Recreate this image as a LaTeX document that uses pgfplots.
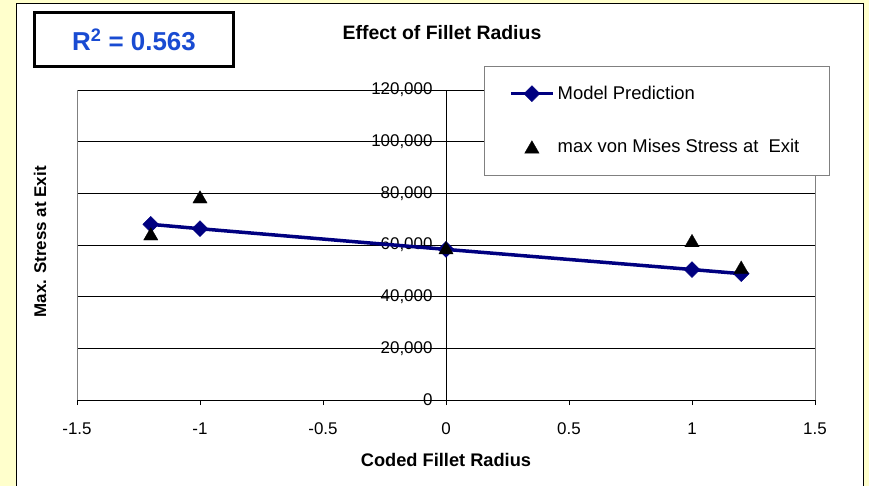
\documentclass[border=0pt]{standalone}
\usepackage{fontspec}
\setmainfont{Liberation Sans}
\usepackage{pgfplots}
\pgfplotsset{compat=1.18}
\definecolor{bgyellow}{RGB}{255,255,204}
\definecolor{navyline}{RGB}{0,0,128}
\definecolor{rblue}{RGB}{25,75,210}
\begin{document}
\begin{tikzpicture}
\useasboundingbox (0,0) rectangle (869bp,486bp);
\fill[bgyellow] (0,0) rectangle (869bp,486bp);
\fill[white] (16bp,0) rectangle (863bp,482bp);
\draw[black, line width=1bp] (16bp,-2bp) -- (16bp,482bp) -- (863bp,482bp) -- (863bp,-2bp);
\node[draw, line width=3bp, minimum width=199bp, minimum height=54bp, inner sep=0pt, text=rblue, font=\bfseries\fontsize{26}{28}\selectfont] at (134bp,446.5bp) {R\textsuperscript{2} = 0.563};
\begin{axis}[
 at={(77bp,86bp)}, anchor=south west, scale only axis, width=738bp, height=310bp,
 xmin=-1.5, xmax=1.5, ymin=0, ymax=120000,
 clip=false,
 axis x line=bottom, axis y line=center, axis line style={-, black, line width=0.8bp},
 xtick={-1.5,-1,-0.5,0,0.5,1,1.5}, ytick={0,20000,40000,60000,80000,100000,120000},
 xticklabels={-1.5,-1,-0.5,0,0.5,1,1.5},
 yticklabels={0,{20,000},{40,000},{60,000},{80,000},{100,000},{120,000}},
 tick align=outside, major tick length=5bp, tick style={black, line width=0.8bp},
 hide obscured x ticks=false, hide obscured y ticks=false,
 ymajorgrids, major grid style={black, line width=0.8bp},
 scaled y ticks=false,
 tick label style={font=\fontsize{17}{20}\selectfont},
 xticklabel style={yshift=-14bp},
 yticklabel style={xshift=-5bp},
 title={Effect of Fillet Radius},
 title style={at={(axis description cs:0.4946,1.1645)}, anchor=center, font=\bfseries\fontsize{19.5}{22}\selectfont},
 xlabel={Coded Fillet Radius},
 xlabel style={at={(axis description cs:0.5,-0.1935)}, anchor=center, font=\bfseries\fontsize{18.3}{20}\selectfont},
 ylabel={Max. Stress at Exit},
 ylabel style={at={(axis description cs:-0.0501,0.51)}, anchor=center, rotate=0, font=\bfseries\fontsize{17}{20}\selectfont},
 every axis y label/.append style={rotate=90},
 legend image code/.code={\draw[mark repeat=2,mark phase=2,#1] plot coordinates {(0bp,0bp)(21bp,0bp)(42bp,0bp)};},
 legend style={draw=none, fill=none, at={(0.5853,0.903)}, anchor=west, inner sep=0pt, row sep=38bp, column sep=3bp, font=\fontsize{18.5}{20}\selectfont, nodes={inner sep=0pt}},
 legend cell align=left,
]
\draw[gray, line width=0.8bp] (rel axis cs:0,0) -- (rel axis cs:0,1);
\draw[gray, line width=0.8bp] (rel axis cs:1,0) -- (rel axis cs:1,1);
\addplot[navyline, line width=3.5bp, mark=square*, mark size=5.6bp, mark options={rotate=45, fill=navyline, draw=navyline, line width=0.5bp}]
 coordinates {(-1.2,68000) (-1,66300) (0,58300) (1,50500) (1.2,48900)};
\addlegendentry{Model Prediction}
\addplot[only marks, black, mark=triangle*, mark size=8.3bp, mark options={fill=black, yshift=-2bp, line width=0.3bp}]
 coordinates {(-1.2,64300) (-1,78600) (0,58900) (1,61700) (1.2,51400)};
\addlegendentry{max von Mises Stress at\ \ Exit}
\draw[gray, line width=0.8bp, fill=white] (rel axis cs:0.5515,1.0774) rectangle (rel axis cs:1.019,0.7258);
\end{axis}
\end{tikzpicture}
\end{document}
